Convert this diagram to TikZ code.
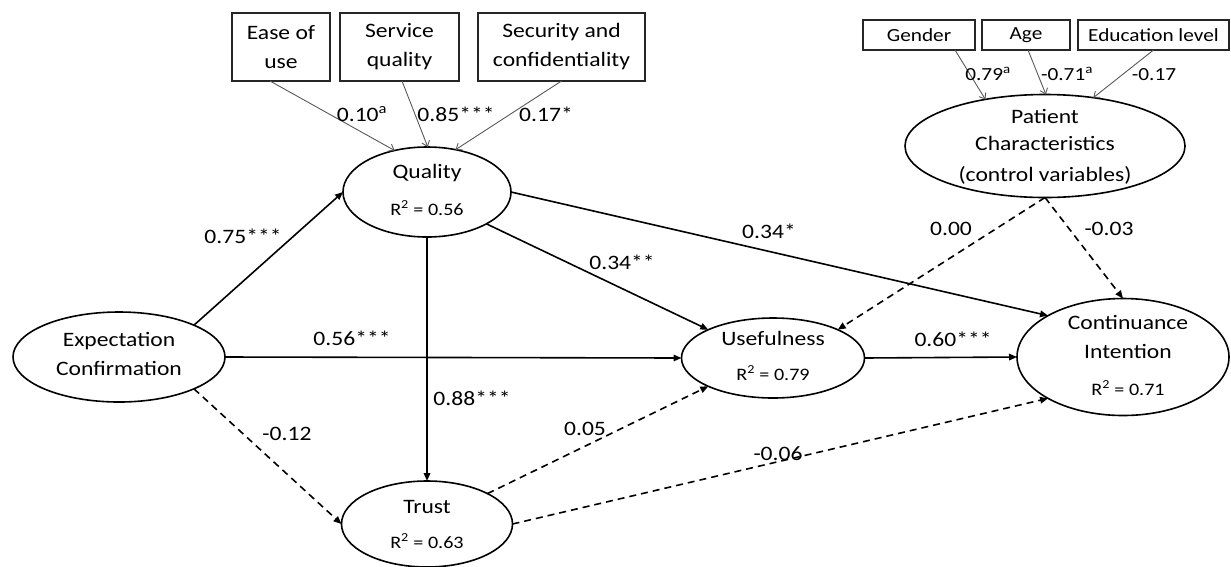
\documentclass[tikz,border=0pt]{standalone}
\usepackage{fontspec}
\setmainfont{Carlito}[FakeStretch=1.15]
\usetikzlibrary{shapes.geometric,arrows.meta,calc}
\definecolor{thinline}{HTML}{595959}
\begin{document}
\begin{tikzpicture}[x=1pt,y=-1pt,
  lv/.style={ellipse,draw,line width=1.6pt,inner sep=0pt,outer sep=0pt},
  box/.style={draw=black!85,line width=1.1pt,inner sep=0pt,outer sep=0pt,align=center},
  bigbox/.style={box,font=\fontsize{20.5}{29}\selectfont},
  smallbox/.style={box,font=\fontsize{18.5}{22}\selectfont},
  txt/.style={font=\fontsize{20.5}{24}\selectfont,inner sep=0pt,text height=0.62em,text depth=0pt},
  rsq/.style={font=\fontsize{17.5}{20}\selectfont,inner sep=0pt,text height=0.62em,text depth=0pt},
  lab/.style={font=\fontsize{20.5}{24}\selectfont,inner sep=0pt,text height=0.62em,text depth=0pt},
  slab/.style={font=\fontsize{18.5}{22}\selectfont,inner sep=0pt,text height=0.62em,text depth=0pt},
  conn/.style={line width=1.6pt,-{Triangle[length=8pt,width=6.5pt]}},
  dconn/.style={conn,dash pattern=on 7pt off 5pt},
  fconn/.style={draw=thinline,line width=0.9pt,-{Straight Barb[length=5pt,width=8pt]}},
]
\useasboundingbox (0,0) rectangle (1231,566);

% latent variables
\node[lv,minimum width=212pt,minimum height=90pt] (exp) at (119,357) {};
\node[lv,minimum width=168pt,minimum height=90pt] (qual) at (427,192) {};
\node[lv,minimum width=183pt,minimum height=80pt] (use) at (773,358) {};
\node[lv,minimum width=212pt,minimum height=117pt] (cont) at (1123,357) {};
\node[lv,minimum width=171pt,minimum height=86pt] (trust) at (427,524) {};
\node[lv,minimum width=280pt,minimum height=103pt] (pat) at (1045,146) {};

% texts inside ellipses
\node[txt] (expA) at (119,343) {Expectation};
\node[txt] (expB) at (119,372) {Confirmation};
\node[txt] (qualA) at (427,175) {Quality};
\node[rsq] (qualR) at (427,212) {R\textsuperscript{2} = 0.56};
\node[txt] (useA) at (773,342) {Usefulness};
\node[rsq] (useR) at (773,377) {R\textsuperscript{2} = 0.79};
\node[txt] (contA) at (1128,326) {Continuance};
\node[txt] (contB) at (1128,355) {Intention};
\node[rsq] (contR) at (1128,392) {R\textsuperscript{2} = 0.71};
\node[txt] (trustA) at (427,510) {Trust};
\node[rsq] (trustR) at (427,545) {R\textsuperscript{2} = 0.63};
\node[txt] (patA) at (1045,120) {Patient};
\node[txt] (patB) at (1045,147) {Characteristics};
\node[txt] (patC) at (1045,178) {(control variables)};

% indicator boxes
\node[bigbox,minimum width=98pt,minimum height=68pt] (ease) at (281,47) {Ease of\\use};
\node[bigbox,minimum width=119pt,minimum height=68pt] (serv) at (399.5,47) {Service\\quality};
\node[bigbox,minimum width=167pt,minimum height=68pt] (sec) at (561.5,47) {Security and\\confidentiality};
\node[smallbox,minimum width=112pt,minimum height=30pt] (gen) at (919,35) {Gender};
\node[smallbox,minimum width=88pt,minimum height=30pt] (age) at (1026,35) {Age};
\node[smallbox,minimum width=151pt,minimum height=30pt] (edu) at (1153.5,35) {Education level};

% formative arrows
\draw[fconn] ([xshift=-11pt]ease.south) -- (qual.128);
\draw[fconn] ([xshift=2.5pt]serv.south) -- (qual.89);
\draw[fconn] (sec.south) -- (qual.56);
\draw[fconn] ([xshift=36pt]gen.south) -- (pat.142);
\draw[fconn] ([xshift=2pt]age.south) -- (pat.89);
\draw[fconn] (edu.south) -- (pat.45);

% structural paths
\draw[conn] (exp.north east) -- (qual.west);
\draw[conn] (exp.east) -- (use.west);
\draw[dconn] (exp.south east) -- (trust.west);
\draw[conn] (qual.south) -- (trust.north);
\draw[conn] (qual.south east) -- (use.north west);
\draw[conn] (qual.east) -- (cont.north west);
\draw[conn] (use.east) -- (cont.west);
\draw[dconn] (trust.north east) -- (use.south west);
\draw[dconn] (trust.east) -- (cont.south west);
\draw[dconn] (pat.south) -- (use.north east);
\draw[dconn] (pat.south) -- (cont.north);

% labels
\node[lab] (l1) at (362,118) {0.10\textsuperscript{a}};
\node[lab] (l2) at (456,118) {0.85***};
\node[lab] (l3) at (546,118) {0.17*};
\node[slab] (l4) at (988,77) {0.79\textsuperscript{a}};
\node[slab] (l5) at (1067,77) {-0.71\textsuperscript{a}};
\node[slab] (l6) at (1154,77) {-0.17};
\node[lab] (l7) at (243,240) {0.75***};
\node[lab] (l8) at (352,342) {0.56***};
\node[lab] (l9) at (622,266) {0.34**};
\node[lab] (l10) at (769,235) {0.34*};
\node[lab] (l11) at (951,232) {0.00};
\node[lab] (l12) at (1109,232) {-0.03};
\node[lab] (l13) at (953,343) {0.60***};
\node[lab] (l14) at (472,402) {0.88***};
\node[lab] (l15) at (585,432) {0.05};
\node[lab] (l16) at (778,457) {-0.06};
\node[lab] (l17) at (287,437) {-0.12};
\end{tikzpicture}
\end{document}
